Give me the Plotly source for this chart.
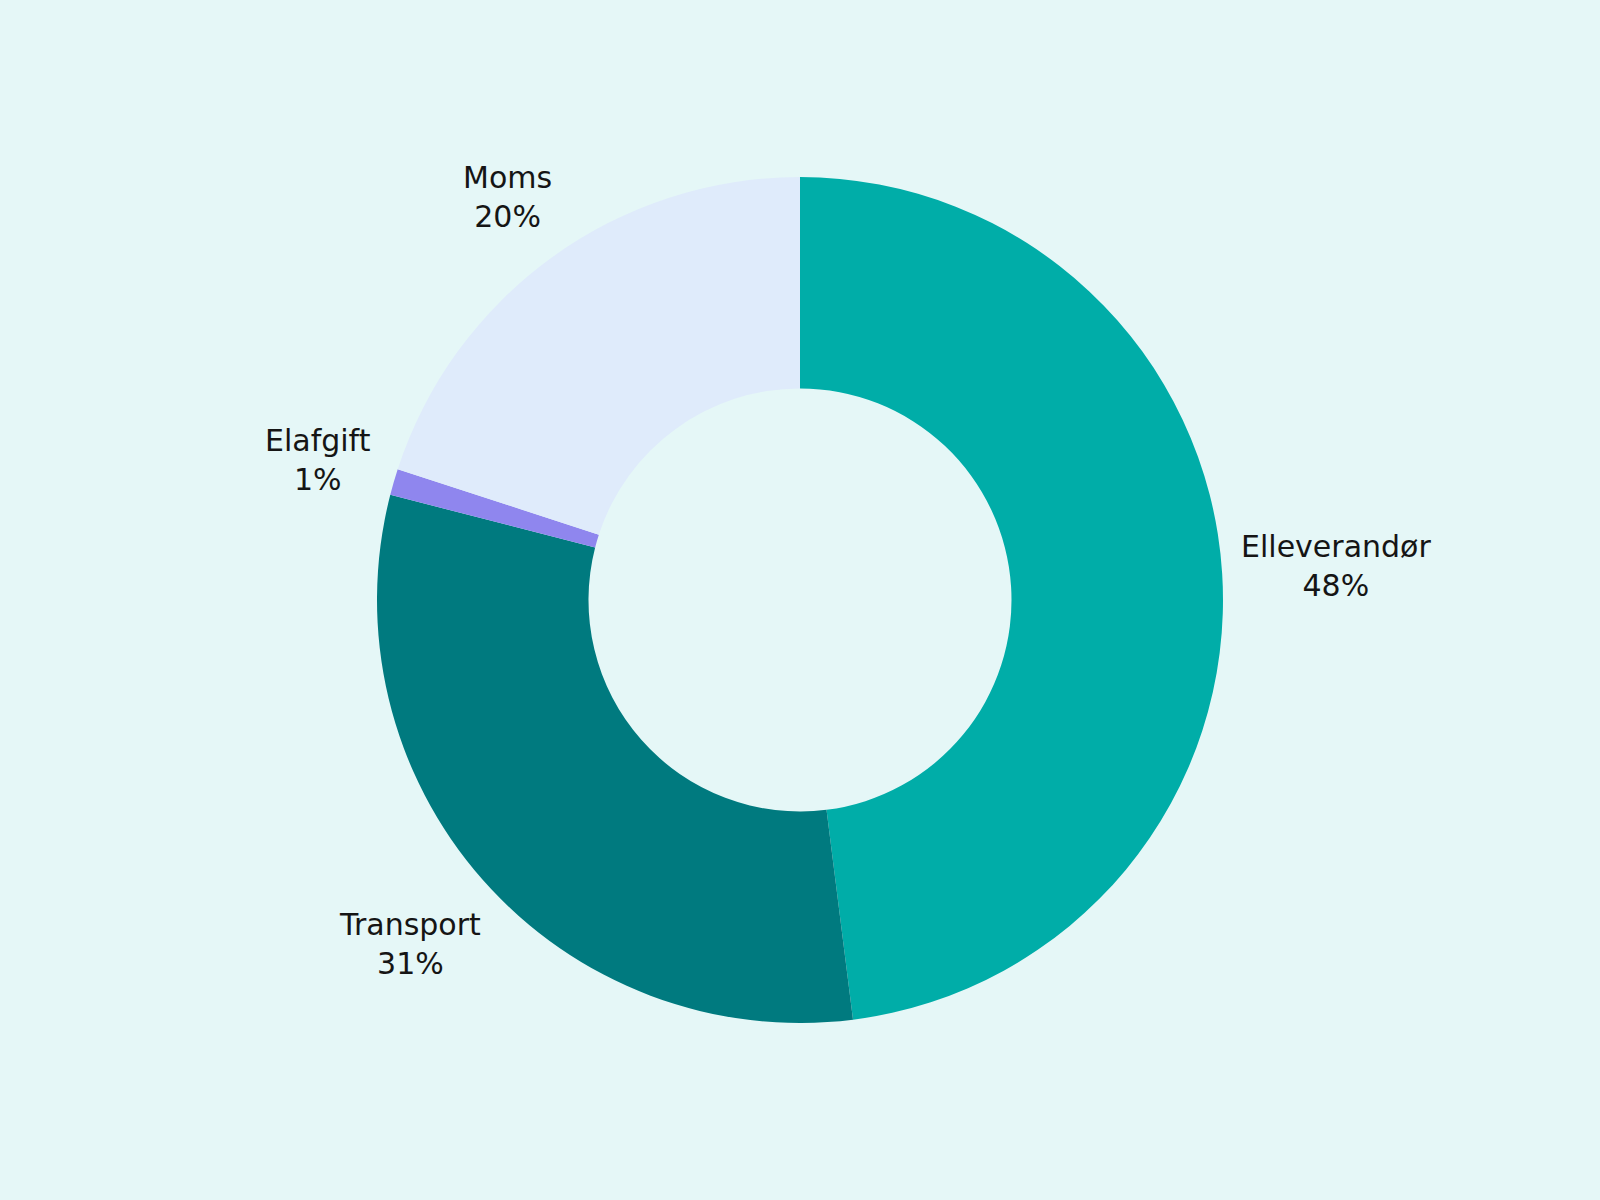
import math
import plotly.graph_objects as go

labels = ["Elleverandør", "Transport", "Elafgift", "Moms"]
values = [48, 31, 1, 20]
colors = ["#00ADA8", "#007A7F", "#8F86EE", "#DFEBFB"]

W, H = 1600, 1200
MT = MB = 177
ML = MR = (W - (H - MT - MB)) // 2
FONT_SIZE = 30
GAP = 17  # px between ring and label box

# approximate DejaVu Sans advance widths (em) for label box size estimation
ADV = {"E": .632, "l": .278, "e": .615, "v": .592, "r": .411, "a": .613, "n": .634,
       "d": .635, "ø": .612, "T": .611, "s": .521, "p": .635, "o": .612, "t": .392,
       "f": .352, "g": .635, "i": .278, "M": .863, "m": .974, "%": .950}


def text_width(s):
    return sum(ADV.get(c, .636) for c in s) * FONT_SIZE


fig = go.Figure(go.Pie(
    labels=labels,
    values=values,
    hole=0.5,
    sort=False,
    direction="clockwise",
    rotation=0,
    marker=dict(colors=colors, line=dict(width=0)),
    textposition="none",
    showlegend=False,
    hoverinfo="label+percent",
))

total = sum(values)
radius_px = (H - MT - MB) / 2
cum = 0
annotations = []
for lab, v in zip(labels, values):
    theta = 2 * math.pi * (cum + v / 2) / total
    cum += v
    pct = f"{round(100 * v / total)}%"
    hw = max(text_width(lab), text_width(pct)) / 2
    hh = 1.3 * FONT_SIZE
    sx, cy = math.sin(theta), math.cos(theta)
    dist = radius_px + GAP + hw * abs(sx) + hh * abs(cy)
    annotations.append(dict(
        x=0.5, y=0.5, xref="paper", yref="paper",
        xshift=dist * sx, yshift=dist * cy,
        xanchor="center", yanchor="middle",
        text=f"{lab}<br>{pct}", showarrow=False, align="center",
        font=dict(family="DejaVu Sans, sans-serif", size=FONT_SIZE, color="#151515"),
    ))

fig.update_layout(
    width=W, height=H,
    paper_bgcolor="#E5F7F7",
    plot_bgcolor="#E5F7F7",
    margin=dict(l=ML, r=MR, t=MT, b=MB),
    annotations=annotations,
)

fig.write_html("out.html", post_script="document.body.style.margin='0';",
               config={"displayModeBar": False})
